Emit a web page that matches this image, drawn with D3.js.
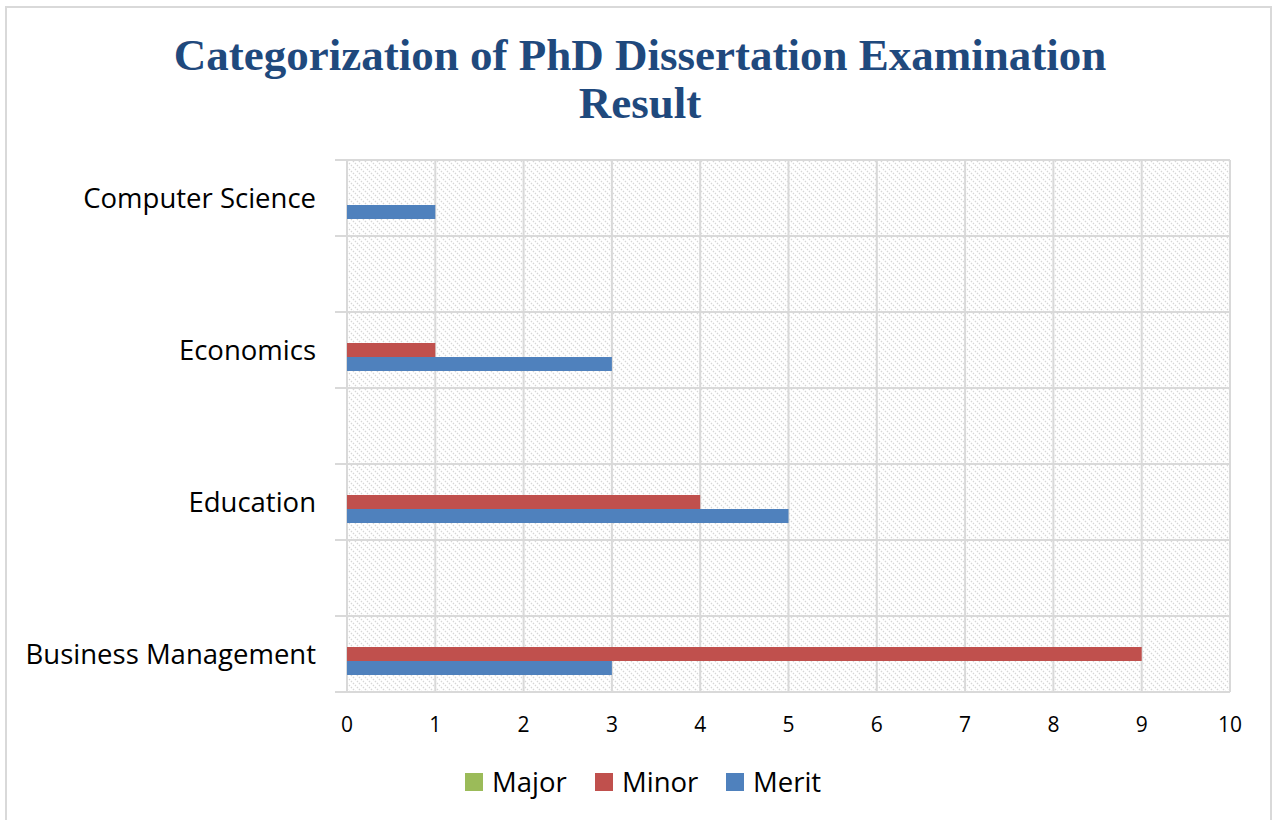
<!DOCTYPE html>
<html>
<head>
<meta charset="utf-8">
<script src="https://cdn.jsdelivr.net/npm/d3@7"></script>
<style>
  body { margin: 0; background: #fff; }
  svg { display: block; }
</style>
</head>
<body>
<svg id="chart" width="1275" height="820"></svg>
<script>
// Chart data
const categories = ['Business Management', 'Education', 'Economics', 'Computer Science'];
const seriesNames = ['Major', 'Minor', 'Merit'];
const majorValues = [0, 0, 0, 0];
const minorValues = [9, 4, 1, 0];
const meritValues = [3, 5, 3, 1];
const xTicks = [0, 1, 2, 3, 4, 5, 6, 7, 8, 9, 10];
const titleLines = ['Categorization of PhD Dissertation Examination', 'Result'];

const colors = { Major: '#9BBB59', Minor: '#C0504D', Merit: '#4F81BD' };
const valuesBySeries = { Major: majorValues, Minor: minorValues, Merit: meritValues };
const bodyFont = '"Open Sans", Lato, sans-serif';

const svg = d3.select('#chart');

// outer chart border
svg.append('rect')
  .attr('x', 6).attr('y', 7)
  .attr('width', 1265).attr('height', 840)
  .attr('fill', '#fff')
  .attr('stroke', '#d9d9d9')
  .attr('stroke-width', 2);

// hatch pattern for plot area
const defs = svg.append('defs');
const pat = defs.append('pattern')
  .attr('id', 'hatch')
  .attr('patternUnits', 'userSpaceOnUse')
  .attr('width', 6).attr('height', 6);
pat.append('rect').attr('width', 6).attr('height', 6).attr('fill', '#fff');
pat.append('path')
  .attr('d', 'M-1,-1 L7,7 M-1,5 L1,7 M5,-1 L7,1')
  .attr('stroke', '#d6d6d6')
  .attr('stroke-width', 1.3)
  .attr('stroke-dasharray', '1.4,1.4');

const plot = { left: 347, right: 1230, top: 160, bottom: 692 };

// each category gets a slot, with an empty slot between categories
const slots = [];
categories.forEach((c, i) => {
  slots.push(c);
  if (i < categories.length - 1) slots.push('__gap' + i);
});

const x = d3.scaleLinear().domain([0, 10]).range([plot.left, plot.right]);
const y = d3.scaleBand().domain(slots).range([plot.bottom, plot.top]);
const inner = d3.scaleBand().domain(seriesNames)
  .range([y.bandwidth() / 2 - 21, y.bandwidth() / 2 + 21]);

svg.append('rect')
  .attr('x', plot.left).attr('y', plot.top)
  .attr('width', plot.right - plot.left).attr('height', plot.bottom - plot.top)
  .attr('fill', 'url(#hatch)');

// vertical gridlines
svg.append('g')
  .selectAll('line')
  .data(xTicks)
  .join('line')
  .attr('x1', d => x(d)).attr('x2', d => x(d))
  .attr('y1', plot.top).attr('y2', plot.bottom)
  .attr('stroke', '#d9d9d9')
  .attr('stroke-width', 2);

// horizontal gridlines at slot boundaries, with ticks on the left
const boundaries = slots.map(s => y(s)).concat([plot.bottom]);
svg.append('g')
  .selectAll('line')
  .data(boundaries)
  .join('line')
  .attr('x1', plot.left - 12).attr('x2', plot.right)
  .attr('y1', d => d).attr('y2', d => d)
  .attr('stroke', '#d9d9d9')
  .attr('stroke-width', 2);

// bars
const rows = categories.flatMap((c, i) =>
  seriesNames.map(s => ({ category: c, series: s, value: valuesBySeries[s][i] })));

svg.append('g')
  .selectAll('rect')
  .data(rows.filter(d => d.value > 0))
  .join('rect')
  .attr('x', x(0))
  .attr('y', d => y(d.category) + inner(d.series))
  .attr('width', d => x(d.value) - x(0))
  .attr('height', inner.bandwidth())
  .attr('fill', d => colors[d.series]);

// category labels
svg.append('g')
  .selectAll('text')
  .data(categories)
  .join('text')
  .attr('x', 316)
  .attr('y', d => y(d) + y.bandwidth() / 2)
  .attr('dy', '0.35em')
  .attr('text-anchor', 'end')
  .attr('font-family', bodyFont)
  .attr('font-size', 27.5)
  .attr('fill', '#000')
  .text(d => d);

// x tick labels
svg.append('g')
  .selectAll('text')
  .data(xTicks)
  .join('text')
  .attr('x', d => x(d))
  .attr('y', 732)
  .attr('text-anchor', 'middle')
  .attr('font-family', bodyFont)
  .attr('font-size', 21)
  .attr('fill', '#000')
  .text(d => d);

// title
svg.append('text')
  .attr('text-anchor', 'middle')
  .attr('font-family', '"Liberation Serif", serif')
  .attr('font-weight', 'bold')
  .attr('font-size', 45)
  .attr('fill', '#1F497D')
  .selectAll('tspan')
  .data(titleLines)
  .join('tspan')
  .attr('x', 640)
  .attr('y', (d, i) => 70 + i * 48)
  .text(d => d);

// legend
const legendX = [465, 595, 726];
const legend = svg.append('g')
  .selectAll('g')
  .data(seriesNames)
  .join('g')
  .attr('transform', (d, i) => `translate(${legendX[i]},773)`);
legend.append('rect')
  .attr('width', 18).attr('height', 18)
  .attr('fill', d => colors[d]);
legend.append('text')
  .attr('x', 27).attr('y', 9)
  .attr('dy', '0.35em')
  .attr('font-family', bodyFont)
  .attr('font-size', 27.5)
  .attr('fill', '#000')
  .text(d => d);
</script>
</body>
</html>
